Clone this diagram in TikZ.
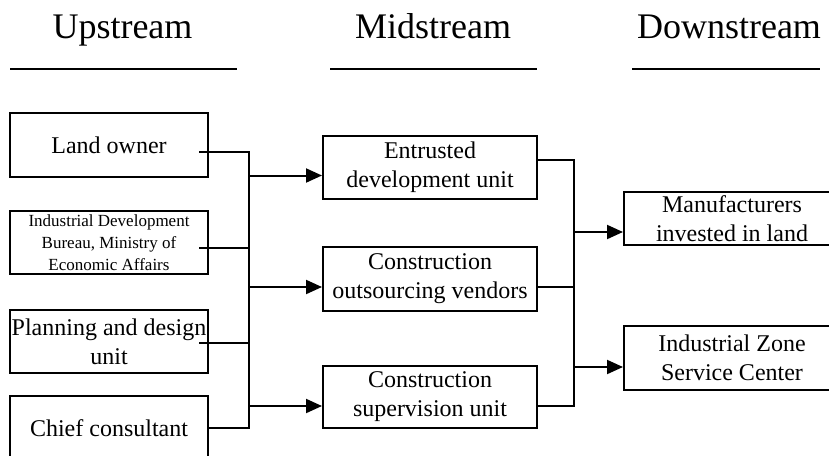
\documentclass[tikz,border=0pt]{standalone}
\usepackage{fontspec}
\setmainfont{Liberation Serif}
\usetikzlibrary{arrows.meta}
\tikzset{
	bx/.style={draw, line width=2pt, inner xsep=0pt, align=center,
		font=\fontsize{24}{29}\selectfont},
	lft/.style={bx, minimum width=198pt},
	mid/.style={bx, minimum width=214pt},
	rgt/.style={bx, minimum width=216pt},
	hd/.style={anchor=base, font=\fontsize{36}{40}\selectfont},
	hl/.style={line width=2.2pt},
	ln/.style={line width=2pt},
	lnk/.style={ln, -{Triangle[length=16pt,width=14pt]}},
}

\begin{document}
\begin{tikzpicture}[x=1pt,y=-1pt]
	\useasboundingbox (0,0) rectangle (829,455);
	\clip (0,0) rectangle (829,455);

	% headers
	\node [hd] (hu) at (122.5,38) {Upstream};
	\node [hd] (hm) at (433,38) {Midstream};
	\node [hd] (hw) at (729,38) {Downstream};
	\draw [hl] (10,69) -- (237,69);
	\draw [hl] (330,69) -- (537,69);
	\draw [hl] (632,69) -- (820,69);

	% boxes
	\node [lft, minimum height=64pt] (lo) at (109,145) {Land owner};
	\node [lft, minimum height=63pt, font=\fontsize{17}{22}\selectfont] (id) at (109,242.5)
		{Industrial Development\\Bureau, Ministry of\\Economic Affairs};
	\node [lft, minimum height=63pt] (pd) at (109,341.5) {Planning and design\\unit};
	\node [lft, minimum height=64pt] (cc) at (109,428) {Chief consultant};

	\node [mid, minimum height=63pt] (ed) at (430,167.5) {Entrusted\\development unit};
	\node [mid, minimum height=64pt] (co) at (430,279) {Construction\\outsourcing vendors};
	\node [mid, minimum height=62pt] (su) at (430,397) {Construction\\supervision unit};

	\node [rgt, minimum height=53pt] (mf) at (732,218.5) {Manufacturers\\invested in land};
	\node [rgt, minimum height=64pt] (iz) at (732,358) {Industrial Zone\\Service Center};

	% upstream -> midstream
	\coordinate (lout) at ([xshift=-10pt,yshift=-7pt]lo.east);
	\coordinate (iout) at ([xshift=-10pt,yshift=-5.5pt]id.east);
	\coordinate (pout) at ([xshift=-10pt,yshift=-1.5pt]pd.east);
	\coordinate (ja) at (249,152);
	\coordinate (jb) at (249,428);
	\draw [ln] (lout) -- (ja) -- (jb) -- (cc.east);
	\draw [ln] (iout) -- (iout -| ja);
	\draw [ln] (pout) -- (pout -| ja);
	\coordinate (edin) at ([yshift=-8pt]ed.west);
	\coordinate (coin) at ([yshift=-8pt]co.west);
	\coordinate (suin) at ([yshift=-9pt]su.west);
	\draw [lnk] (edin -| ja) -- (edin);
	\draw [lnk] (coin -| ja) -- (coin);
	\draw [lnk] (suin -| ja) -- (suin);

	% midstream -> downstream
	\coordinate (eout) at ([yshift=7.5pt]ed.east);
	\coordinate (cout) at ([yshift=-8pt]co.east);
	\coordinate (sout) at ([yshift=-9pt]su.east);
	\coordinate (jc) at (574,160);
	\draw [ln] (eout) -- (jc) -- (jc |- sout) -- (sout);
	\draw [ln] (cout) -- (cout -| jc);
	\coordinate (mfin) at ([yshift=-13.5pt]mf.west);
	\coordinate (izin) at ([yshift=-9pt]iz.west);
	\draw [lnk] (mfin -| jc) -- (mfin);
	\draw [lnk] (izin -| jc) -- (izin);
\end{tikzpicture}
\end{document}
